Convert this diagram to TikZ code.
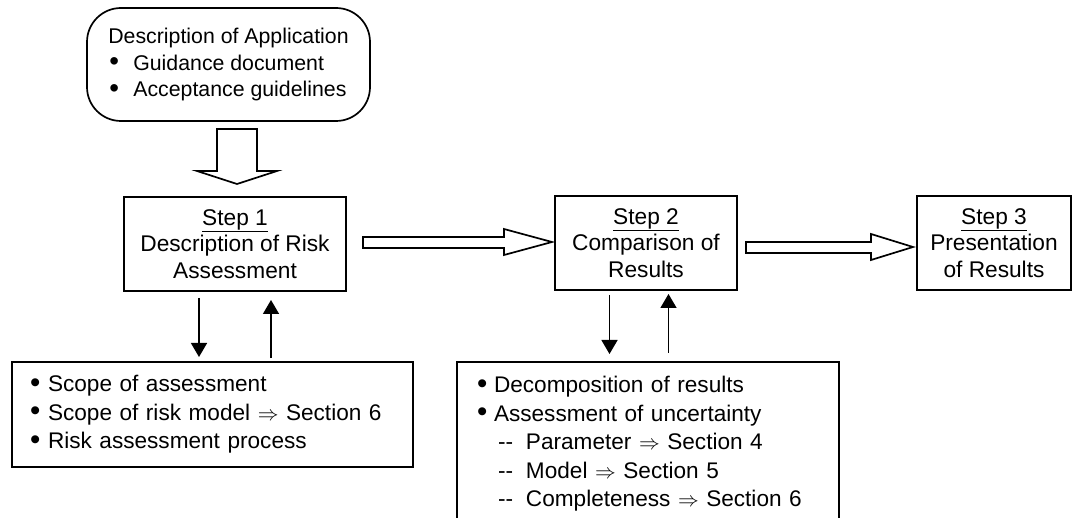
\documentclass[tikz,border=0pt]{standalone}
\usepackage{fontspec}
\setmainfont{Liberation Sans}
\usetikzlibrary{arrows.meta,calc}

% bullet and dash items for the lists
\newcommand{\blt}[1][18pt]{\makebox[#1][l]{\raisebox{-0.6pt}{\scalebox{1.3}{\textbullet}}}}
\newcommand{\dashitem}{\hspace*{21pt}\makebox[28pt][l]{-{}-}}
\newcommand{\implies}{$\Rightarrow$}

\begin{document}
\begin{tikzpicture}[x=1pt,y=-1pt,
  box/.style={draw, line width=1.7pt, inner sep=0pt, outer sep=0pt,
    font=\fontsize{22.7}{26.5}\selectfont, align=center},
  stepbox/.style={box, minimum height=94pt},
  listbox/.style={box, align=left, font=\fontsize{22.6}{28.5}\selectfont},
  thinarrow/.style={line width=1.5pt, -{Triangle[length=14pt,width=16pt]}},
  hollow/.style={draw, line width=1.7pt, fill=white, line join=miter},
]
\useasboundingbox (0,0) rectangle (1073,518);
\fill[white] (0,0) rectangle (1073,518);
\clip (0,0) rectangle (1073,518);

% input description
\node[box, align=left, rounded corners=34pt, minimum width=283pt, minimum height=113pt,
  font=\fontsize{21.3}{26.5}\selectfont] (app) at (228.5,64.5)
  {Description of Application\\
   \hspace*{1pt}\blt[24pt]Guidance document\\
   \hspace*{1pt}\blt[24pt]Acceptance guidelines};

% the three steps
\node[stepbox, minimum width=222pt] (s1) at (235,244)
  {\underline{Step 1}\\Description of Risk\\Assessment};
\node[stepbox, minimum width=182pt] (s2) at (646,243)
  {\underline{Step 2}\\Comparison of\\Results};
\node[stepbox, minimum width=154pt] (s3) at (994,243)
  {\underline{Step 3}\\Presentation\\of Results};

% detail boxes
\node[listbox, text width=365pt, inner xsep=18pt, minimum width=401pt, minimum height=105pt]
  (b1) at (212.5,414.5)
  {\blt Scope of assessment\\
   \blt Scope of risk model \implies{} Section 6\\
   \blt Risk assessment process};
\node[listbox, text width=342pt, inner xsep=20pt, minimum width=382pt, minimum height=164pt]
  (b2) at (648,444)
  {\blt[17pt]Decomposition of results\\
   \blt[17pt]Assessment of uncertainty\\
   \dashitem Parameter \implies{} Section 4\\
   \dashitem Model \implies{} Section 5\\
   \dashitem Completeness \implies{} Section 6};

% block arrows
\draw[hollow] ([xshift=-11.5pt,yshift=-8pt]app.south)
  -- ([xshift=-18pt,yshift=26pt]s1.north) -- ([xshift=-38pt,yshift=26pt]s1.north)
  -- ([xshift=2pt,yshift=13pt]s1.north)
  -- ([xshift=42pt,yshift=26pt]s1.north) -- ([xshift=22pt,yshift=26pt]s1.north)
  -- ([xshift=28.5pt,yshift=-8pt]app.south) -- cycle;
\draw[hollow] ([xshift=17pt,yshift=7pt]s1.east)
  -- ([xshift=-51pt,yshift=6pt]s2.west) -- ([xshift=-51pt,yshift=14pt]s2.west)
  -- ([xshift=-3pt,yshift=1pt]s2.west)
  -- ([xshift=-51pt,yshift=-12pt]s2.west) -- ([xshift=-51pt,yshift=-5pt]s2.west)
  -- ([xshift=17pt,yshift=-4pt]s1.east) -- cycle;
\draw[hollow] ([xshift=9pt,yshift=1pt]s2.east)
  -- ([xshift=-46pt,yshift=1pt]s3.west) -- ([xshift=-46pt,yshift=9pt]s3.west)
  -- ([xshift=-4pt,yshift=-4pt]s3.west)
  -- ([xshift=-46pt,yshift=-17pt]s3.west) -- ([xshift=-46pt,yshift=-10pt]s3.west)
  -- ([xshift=9pt,yshift=-10pt]s2.east) -- cycle;

% feedback arrows
\draw[thinarrow] ($(s1.south)+(-36,7)$) -- ($(s1.south |- b1.north)+(-36,-5)$);
\draw[thinarrow] ($(s1.south |- b1.north)+(36,-4)$) -- ($(s1.south)+(36,9)$);
\draw[thinarrow] ($(s2.south)+(-36.5,5)$) -- ($(s2.south |- b2.north)+(-36.5,-8)$);
\draw[thinarrow] ($(s2.south |- b2.north)+(22.5,-9)$) -- ($(s2.south)+(22.5,4)$);
\end{tikzpicture}
\end{document}
